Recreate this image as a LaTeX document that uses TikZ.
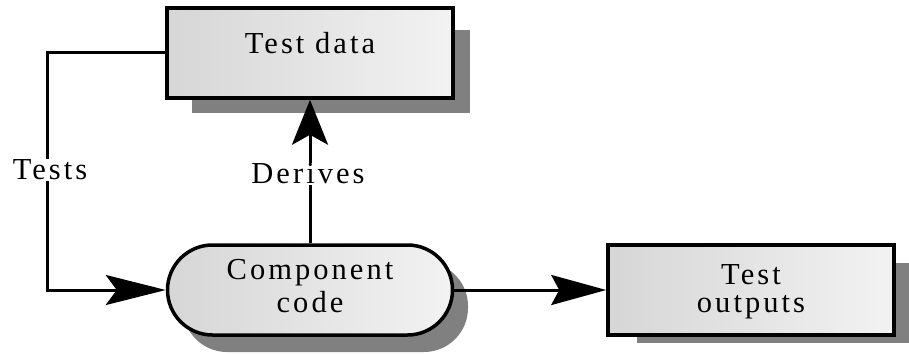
\documentclass[tikz,border=0pt]{standalone}
\usepackage{fontspec}
\newfontfamily\diafont[LetterSpace=10]{Liberation Serif}
\usetikzlibrary{arrows.meta,shapes.misc}
\newcommand\twolines[4]{\raisebox{#1}[0pt][0pt]{\vbox{\baselineskip=#2\halign{\hfil##\hfil\cr #3\cr #4\cr}}}}
\begin{document}
\begin{tikzpicture}[x=1pt,y=-1pt,
  boxstyle/.style={draw=black,line width=3.5pt,left color=black!16,right color=black!5,
    minimum width=286pt,minimum height=90pt,inner sep=0pt,
    font=\diafont\fontsize{30.5}{33}\selectfont},
  shadowc/.style={fill=black!50},
  conn/.style={line width=3pt},
  lbl/.style={fill=white,inner sep=1pt,font=\diafont\fontsize{30.5}{33}\selectfont}
]
\useasboundingbox (0,0) rectangle (909,353);
% shadows
\fill[shadowc] (192,30) rectangle (470,113);
\fill[shadowc,rounded corners=44pt] (183,262) rectangle (468,352);
\fill[shadowc] (637,263) rectangle (909,343);
% nodes
\node[boxstyle] (td) at (310,53) {\raisebox{0pt}[0pt][0pt]{Test data}};
\node[boxstyle,rounded corners=45pt,minimum width=285pt] (cc) at (310,290) {\twolines{-22pt}{33pt}{Component}{code}};
\node[boxstyle] (to) at (751,290) {\twolines{-22pt}{28pt}{Test}{outputs}};
\coordinate (tl) at (47,53);
% connectors
\draw[conn,-{Stealth[length=60pt,width=30pt,inset=11pt]}] (td.west) -- (tl) |- (cc.west);
\draw[conn,-{Stealth[length=45pt,width=36pt,inset=10pt]}] (cc.north) -- (td.south);
\draw[conn,-{Stealth[length=55pt,width=30pt,inset=8pt]}] (cc.east) -- (to.west);
% labels
\node[lbl] (tests) at (50,170) {Tests};
\node[lbl] (der) at (308,174) {Derives};
\end{tikzpicture}
\end{document}
